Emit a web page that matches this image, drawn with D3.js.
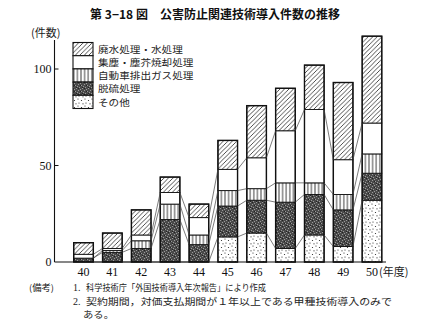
<!DOCTYPE html>
<html><head><meta charset="utf-8">
<script src="https://cdn.jsdelivr.net/npm/d3@7"></script>
<style>
html,body{margin:0;padding:0;background:#fff;}
svg{display:block;}
.jp{font-family:"Noto Sans CJK JP","Noto Sans",sans-serif;}
.num{font-family:"Liberation Serif","DejaVu Serif",serif;}
</style></head>
<body>
<svg id="chart" width="430" height="335"></svg>
<script>
// ---- data ----
const years = ["40","41","42","43","44","45","46","47","48","49","50"];
const seriesNames = ["その他","脱硫処理","自動車排出ガス処理","集塵・塵芥焼却処理","廃水処理・水処理"]; // bottom -> top
const other  = [0,0,0,0,0,13,15,7,14,8,32];
const desulf = [2,5,7,22,9,16,17,24,21,19,14];
const auto   = [0,1,4,8,5,8,6,10,6,8,10];
const dust   = [2,1,3,6,9,11,16,27,38,18,16];
const water  = [6,8,13,8,7,15,27,22,23,40,45];
const yTicks = [0,50,100];
const title = "第 3−18 図　公害防止関連技術導入件数の推移";
const yUnit = "(件数)";
const xUnit = "(年度)";
const notes = [
  {label:"(備考)", num:"1.", text:"科学技術庁「外国技術導入年次報告」により作成"},
  {label:"", num:"2.", text:"契約期間，対価支払期間が１年以上である甲種技術導入のみで"},
  {label:"", num:"", text:"ある。"}
];

const keys = ["other","desulf","auto","dust","water"];
const table = years.map((y,i)=>({year:y, other:other[i], desulf:desulf[i], auto:auto[i], dust:dust[i], water:water[i]}));

const svg = d3.select("#chart");
const defs = svg.append("defs");

// patterns
const pHatch = defs.append("pattern").attr("id","p-water").attr("patternUnits","userSpaceOnUse").attr("width",4.5).attr("height",4.5);
pHatch.append("rect").attr("width",4.5).attr("height",4.5).attr("fill","#fff");
pHatch.append("path").attr("d","M-1,1 L1,-1 M0,4.5 L4.5,0 M3.5,5.5 L5.5,3.5").attr("stroke","#222").attr("stroke-width",0.8);

const pWhite = defs.append("pattern").attr("id","p-dust").attr("patternUnits","userSpaceOnUse").attr("width",4).attr("height",4);
pWhite.append("rect").attr("width",4).attr("height",4).attr("fill","#fff");

const pVert = defs.append("pattern").attr("id","p-auto").attr("patternUnits","userSpaceOnUse").attr("width",3.6).attr("height",4);
pVert.append("rect").attr("width",3.6).attr("height",4).attr("fill","#fff");
pVert.append("line").attr("x1",1.8).attr("x2",1.8).attr("y1",0).attr("y2",4).attr("stroke","#222").attr("stroke-width",0.9);

const pDark = defs.append("pattern").attr("id","p-desulf").attr("patternUnits","userSpaceOnUse").attr("width",6).attr("height",6);
pDark.append("rect").attr("width",6).attr("height",6).attr("fill","#4a4a4a");
[[0,0],[3,1],[1,3],[4,4],[5,2],[2,5]].forEach(([x,y])=>pDark.append("rect").attr("x",x).attr("y",y).attr("width",1).attr("height",1).attr("fill","#9a9a9a"));
[[2,1],[4,3],[0,4]].forEach(([x,y])=>pDark.append("rect").attr("x",x).attr("y",y).attr("width",1).attr("height",1).attr("fill","#222"));

const pDots = defs.append("pattern").attr("id","p-other").attr("patternUnits","userSpaceOnUse").attr("width",7).attr("height",7);
pDots.append("rect").attr("width",7).attr("height",7).attr("fill","#fff");
[[1,1],[4.5,2.5],[2,5],[6,5.8]].forEach(([x,y])=>pDots.append("circle").attr("cx",x).attr("cy",y).attr("r",0.6).attr("fill","#222"));

// scales
const x = d3.scaleBand().domain(years).range([69.1,386.4]).paddingInner(0.32).paddingOuter(0.16);
const y = d3.scaleLinear().domain([0,100]).range([262,69]);

const stack = d3.stack().keys(keys)(table);

// bars
const g = svg.append("g");
stack.forEach(layer=>{
  g.append("g").selectAll("rect").data(layer).join("rect")
    .attr("x",d=>x(d.data.year))
    .attr("y",d=>y(d[1]))
    .attr("width",x.bandwidth())
    .attr("height",d=>y(d[0])-y(d[1]))
    .attr("fill","url(#p-"+layer.key+")")
    .attr("stroke","#111").attr("stroke-width",d=>d[1]>d[0]?0.9:0);
});
// outer outline
g.append("g").selectAll("rect").data(table).join("rect")
  .attr("x",d=>x(d.year)).attr("width",x.bandwidth())
  .attr("y",d=>y(keys.reduce((s,k)=>s+d[k],0)))
  .attr("height",d=>y(0)-y(keys.reduce((s,k)=>s+d[k],0)))
  .attr("fill","none").attr("stroke","#111").attr("stroke-width",1.4);

// connecting lines
for(let li=0; li<keys.length-1; li++){
  const layer = stack[li];
  for(let i=0;i<years.length-1;i++){
    g.append("line")
      .attr("x1",x(years[i])+x.bandwidth()).attr("y1",y(layer[i][1]))
      .attr("x2",x(years[i+1])).attr("y2",y(layer[i+1][1]))
      .attr("stroke","#444").attr("stroke-width",0.7);
  }
}

// axes
const axX = 54.5;
svg.append("line").attr("x1",axX).attr("x2",axX).attr("y1",40).attr("y2",y(0)).attr("stroke","#111").attr("stroke-width",1.1);
svg.append("line").attr("x1",axX).attr("x2",386).attr("y1",y(0)).attr("y2",y(0)).attr("stroke","#111").attr("stroke-width",1.1);
svg.append("g").selectAll("line").data(yTicks.filter(t=>t>0)).join("line")
  .attr("x1",axX).attr("x2",axX+4).attr("y1",d=>y(d)).attr("y2",d=>y(d)).attr("stroke","#111").attr("stroke-width",1);
svg.append("g").selectAll("text").data(yTicks).join("text").attr("class","num")
  .attr("x",axX-3).attr("y",d=>y(d)+4).attr("text-anchor","end").attr("font-size",12).attr("fill","#111")
  .text(d=>d);
svg.append("g").selectAll("text").data(years).join("text").attr("class","num")
  .attr("x",d=>x(d)+x.bandwidth()/2).attr("y",276).attr("text-anchor","middle").attr("font-size",12).attr("fill","#111")
  .text(d=>d);
svg.append("text").attr("class","jp").attr("x",x("50")+x.bandwidth()/2+7).attr("y",275.5).attr("font-size",11).attr("fill","#222").text(xUnit);
svg.append("text").attr("class","jp").attr("x",31).attr("y",37).attr("font-size",11).attr("fill","#222").text(yUnit);

// title
svg.append("text").attr("class","jp").attr("x",215).attr("y",19).attr("text-anchor","middle")
  .attr("font-size",12).attr("font-weight",600).attr("fill","#111").text(title);

// legend
const legOrder = [4,3,2,1,0];
const lg = svg.append("g");
legOrder.forEach((si,j)=>{
  const yy = 42.5 + j*13.2;
  lg.append("rect").attr("x",73).attr("y",yy).attr("width",20).attr("height",13.2)
    .attr("fill","url(#p-"+keys[si]+")").attr("stroke","#111").attr("stroke-width",1.1);
  const name = seriesNames[si];
  lg.append("text").attr("class","jp").attr("x",98).attr("y",yy+10.3).attr("font-size",9)
    .attr("textLength",name.length*10.6).attr("lengthAdjust","spacingAndGlyphs")
    .attr("fill","#222").text(name);
});

// notes
const noteY = [291,304.5,317.5];
const noteFs = 9;
notes.forEach((n,i)=>{
  if(n.label) svg.append("text").attr("class","jp").attr("x",29).attr("y",noteY[i]).attr("font-size",noteFs)
    .attr("textLength",25).attr("lengthAdjust","spacingAndGlyphs").attr("fill","#222").text(n.label);
  if(n.num) svg.append("text").attr("class","num").attr("x",73).attr("y",noteY[i]).attr("font-size",10).attr("fill","#222").text(n.num);
});
svg.append("text").attr("class","jp").attr("x",86).attr("y",noteY[0]).attr("font-size",noteFs).attr("fill","#222")
  .attr("textLength",180).attr("lengthAdjust","spacingAndGlyphs").text(notes[0].text);
svg.append("text").attr("class","jp").attr("x",86).attr("y",noteY[1]).attr("font-size",noteFs).attr("fill","#222")
  .attr("textLength",306).attr("lengthAdjust","spacingAndGlyphs").text(notes[1].text);
svg.append("text").attr("class","jp").attr("x",83).attr("y",noteY[2]).attr("font-size",noteFs).attr("fill","#222")
  .attr("textLength",31).attr("lengthAdjust","spacingAndGlyphs").text(notes[2].text);
</script>
</body></html>
